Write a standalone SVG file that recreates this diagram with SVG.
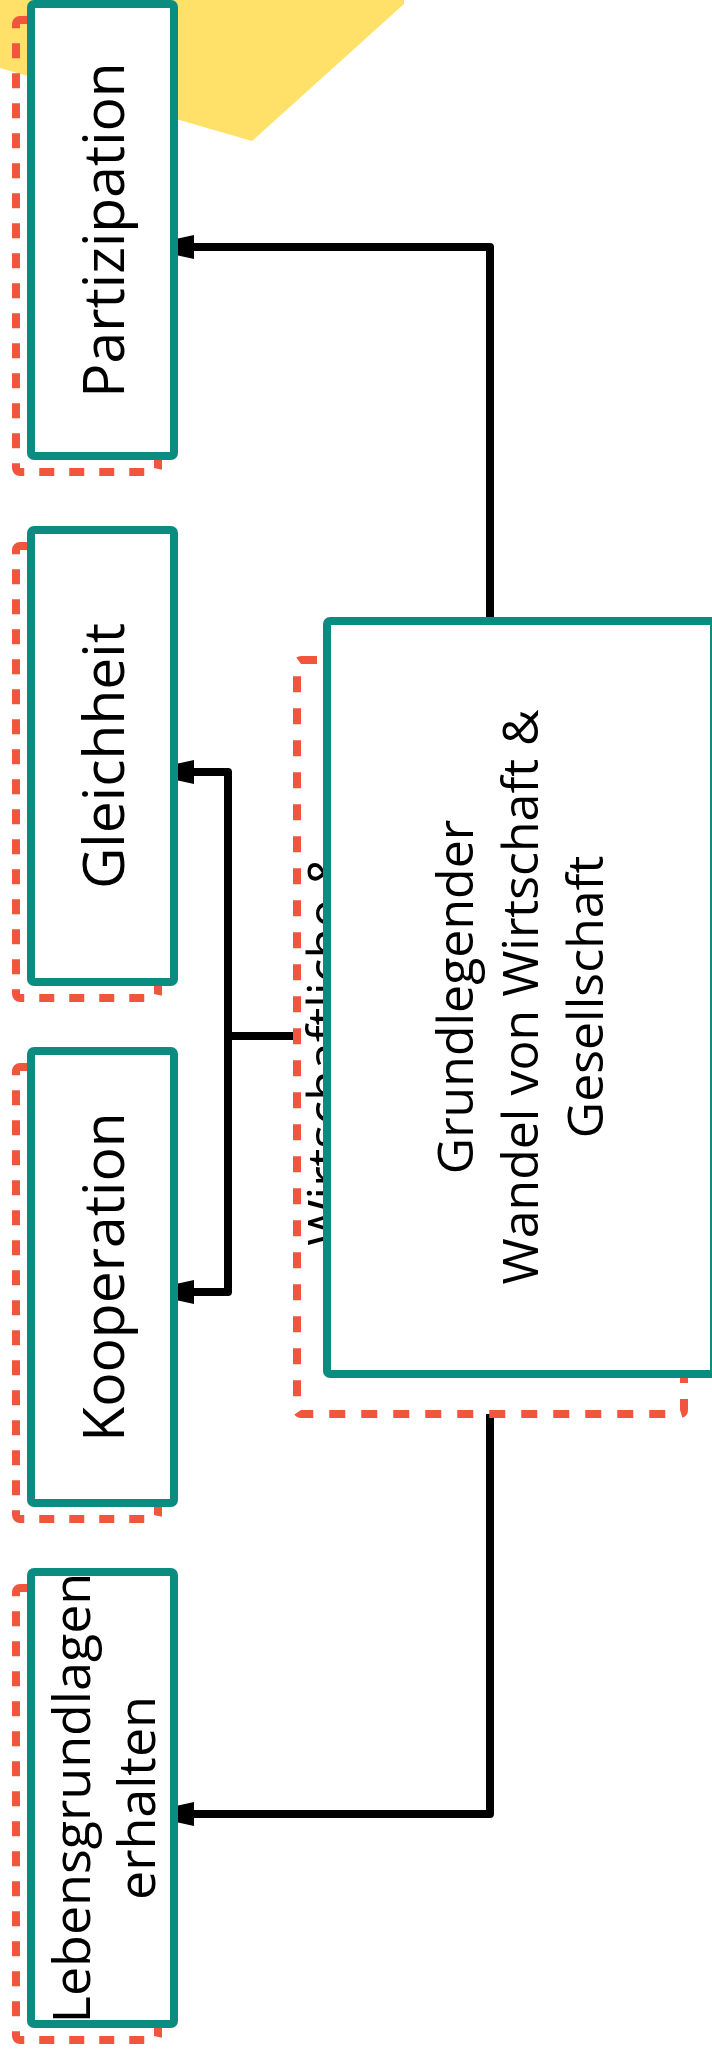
<svg xmlns="http://www.w3.org/2000/svg" width="712" height="2053" viewBox="0 0 712 2053">
<style>
.bg{fill:#FFFFFF}
.deco{fill:#FFE169}
.node{fill:#FFFFFF;stroke:#0A8C80;stroke-width:8}
.halo{fill:none;stroke:#F2553D;stroke-width:8;stroke-dasharray:15 15}
.halo2{fill:none;stroke:#F2553D;stroke-width:8;stroke-dasharray:16 16}
.edge{fill:none;stroke:#000000;stroke-width:8;stroke-linejoin:round}
.lbl{font-family:"Open Sans","Noto Sans","DejaVu Sans",sans-serif;fill:#000000;text-anchor:middle}
</style>
<defs>
<marker id="arr" markerUnits="userSpaceOnUse" viewBox="-20 -15 24 30" markerWidth="24" markerHeight="30" refX="0" refY="0" orient="auto">
<path d="M-16,-12 L0,-8.5 L0,8.5 L-16,12 Z" fill="#000000"/>
</marker>
</defs>
<rect class="bg" x="0" y="0" width="712" height="2053"/>
<polygon class="deco" points="0,0 404,0 404,4 252,141 0,68"/>
<g id="connectors">
<path class="edge" d="M490,617 V247 H178" marker-end="url(#arr)"/>
<path class="edge" d="M297,1036 H228 V772 H178" marker-end="url(#arr)"/>
<path class="edge" d="M228,1036 V1292 H178" marker-end="url(#arr)"/>
<path class="edge" d="M490,1414 V1814 H178" marker-end="url(#arr)"/>
</g>
<g id="partizipation">
<rect class="halo" x="16" y="20" width="142" height="452" rx="4"/>
<rect class="node" x="31" y="4" width="143" height="452" rx="3"/>
<text class="lbl" font-size="57" transform="translate(124,230) rotate(-90)">Partizipation</text>
</g>
<g id="gleichheit">
<rect class="halo" x="16" y="546" width="142" height="452" rx="4"/>
<rect class="node" x="31" y="530" width="143" height="452" rx="3"/>
<text class="lbl" font-size="57" transform="translate(124,756) rotate(-90)">Gleichheit</text>
</g>
<g id="kooperation">
<rect class="halo" x="16" y="1067" width="142" height="452" rx="4"/>
<rect class="node" x="31" y="1051" width="143" height="452" rx="3"/>
<text class="lbl" font-size="57" transform="translate(124,1277) rotate(-90)">Kooperation</text>
</g>
<g id="lebensgrundlagen">
<rect class="halo" x="16" y="1588" width="142" height="452" rx="4"/>
<rect class="node" x="31" y="1572" width="143" height="452" rx="3"/>
<text class="lbl" font-size="52" transform="translate(90,1798) rotate(-90)"><tspan x="0" y="0">Lebensgrundlagen</tspan><tspan x="0" y="65">erhalten</tspan></text>
</g>
<g id="wirtschaftliche">
<rect class="halo2" x="297" y="660" width="387" height="754" rx="4"/>
<text class="lbl" font-size="50" transform="translate(343,1048) rotate(-90)">Wirtschaftliche &amp;</text>
</g>
<g id="grundlegender-wandel">
<rect class="node" x="327" y="621" width="387" height="753" rx="3"/>
<text class="lbl" font-size="50" transform="translate(473,997) rotate(-90)"><tspan x="0" y="0">Grundlegender</tspan><tspan x="0" y="65">Wandel von Wirtschaft &amp;</tspan><tspan x="0" y="130">Gesellschaft</tspan></text>
</g>
</svg>
